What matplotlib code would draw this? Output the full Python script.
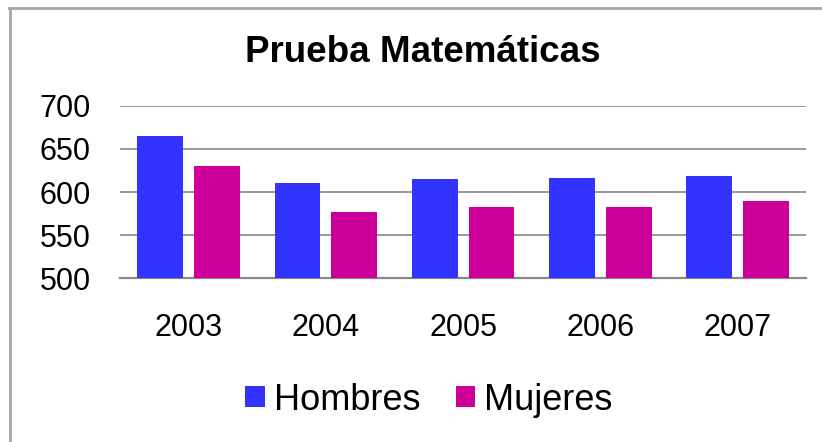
import numpy as np
import matplotlib
matplotlib.use("Agg")
import matplotlib.pyplot as plt
from matplotlib.lines import Line2D

plt.rcParams['font.family'] = ['Liberation Sans', 'DejaVu Sans']

years = ['2003', '2004', '2005', '2006', '2007']
hombres = [665, 610, 615, 616, 619]
mujeres = [630, 577, 583, 583, 590]

fig = plt.figure(figsize=(8.22, 4.42), dpi=100)
ax = fig.add_axes([0.146, 0.370, 0.835, 0.391])

x = np.arange(len(years))
w = 0.333
off = 0.207
ax.bar(x - off, hombres, w, color='#3333FF', label='Hombres', zorder=3)
ax.bar(x + off, mujeres, w, color='#CC0099', label='Mujeres', zorder=3)

ax.set_ylim(500, 700)
ax.set_xlim(-0.5, len(years) - 0.5)
ax.set_yticks([500, 550, 600, 650, 700])
ax.set_xticks(x)
ax.set_xticklabels(years)
ax.tick_params(axis='both', length=0, labelsize=22)
ax.tick_params(axis='y', pad=21)
ax.tick_params(axis='x', pad=25)
ax.yaxis.grid(True, color='#888888', linewidth=1.2, zorder=0)
for s in ['top', 'right', 'left']:
    ax.spines[s].set_visible(False)
ax.spines['bottom'].set_color('#888888')
ax.spines['bottom'].set_linewidth(1.6)

fig.text(0.514, 0.860, 'Prueba Matemáticas', ha='center', va='baseline',
         fontsize=26.5, fontweight='bold')

fig.legend(loc='center', bbox_to_anchor=(0.522, 0.095), ncol=2, frameon=False,
           fontsize=26, handlelength=0.53, handleheight=0.53,
           handletextpad=0.25, columnspacing=1.0, borderpad=0)

# chart frame (only top and left edges visible in the crop)
fig.add_artist(Line2D([0.0116, 0.0116], [0.0, 0.982], transform=fig.transFigure,
                      color='#A6A6A6', linewidth=2))
fig.add_artist(Line2D([0.0104, 1.0], [0.982, 0.982], transform=fig.transFigure,
                      color='#A6A6A6', linewidth=2))

fig.savefig('out.png', dpi=100)
